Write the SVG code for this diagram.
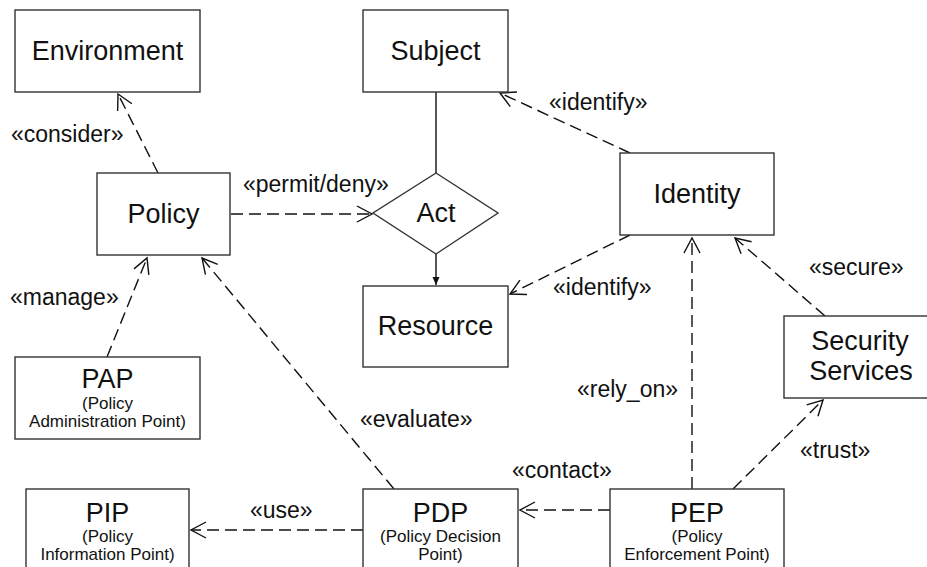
<svg xmlns="http://www.w3.org/2000/svg" width="927" height="567" viewBox="0 0 927 567">
  <defs>
    <marker id="open" markerUnits="userSpaceOnUse" markerWidth="20" markerHeight="20" refX="0" refY="0" viewBox="-16 -10 20 20" orient="auto" overflow="visible">
      <path d="M -15 -8 L 0 0 L -15 8" fill="none" stroke="#111" stroke-width="1.4"/>
    </marker>
    <marker id="solid" markerUnits="userSpaceOnUse" markerWidth="10" markerHeight="10" refX="0" refY="0" viewBox="-8 -4 10 8" orient="auto" overflow="visible">
      <path d="M -8 -3.5 L 0 0 L -8 3.5 Z" fill="#111"/>
    </marker>
  </defs>
  <style>
    .box { fill: #fff; stroke: #333; stroke-width: 1.4; }
    .title { font-family: "Liberation Sans", Arial, sans-serif; font-size: 27px; fill: #111; text-anchor: middle; }
    .sub { font-family: "Liberation Sans", Arial, sans-serif; font-size: 17px; fill: #111; text-anchor: middle; }
    .lbl { font-family: "Liberation Sans", Arial, sans-serif; font-size: 23px; fill: #111; }
    .dep { fill: none; stroke: #111; stroke-width: 1.4; stroke-dasharray: 12 6; marker-end: url(#open); }
    .assoc { fill: none; stroke: #111; stroke-width: 1.4; }
  </style>
  <rect width="927" height="567" fill="#fff"/>

  <g id="connectors">
    <line class="assoc" x1="436" y1="92" x2="436" y2="173"/>
    <line class="assoc" x1="436" y1="254" x2="436" y2="285" marker-end="url(#solid)"/>
    <line class="dep" x1="231" y1="214" x2="372" y2="214"/>
    <line class="dep" x1="158" y1="173" x2="118" y2="94"/>
    <line class="dep" x1="107" y1="357" x2="147" y2="258"/>
    <line class="dep" x1="394" y1="489" x2="202" y2="258"/>
    <line class="dep" x1="363" y1="530" x2="191" y2="530"/>
    <line class="dep" x1="610" y1="510" x2="520" y2="510"/>
    <line class="dep" x1="692" y1="489" x2="692" y2="238"/>
    <line class="dep" x1="733" y1="489" x2="823" y2="400"/>
    <line class="dep" x1="825" y1="316" x2="735" y2="238"/>
    <line class="dep" x1="630" y1="153" x2="500" y2="93"/>
    <line class="dep" x1="630" y1="235" x2="510" y2="294"/>
  </g>

  <g id="labels">
    <text class="lbl" x="11" y="142">«consider»</text>
    <text class="lbl" x="243" y="192">«permit/deny»</text>
    <text class="lbl" x="549" y="110">«identify»</text>
    <text class="lbl" x="553" y="295">«identify»</text>
    <text class="lbl" x="809" y="275">«secure»</text>
    <text class="lbl" x="10" y="305">«manage»</text>
    <text class="lbl" x="577" y="397">«rely_on»</text>
    <text class="lbl" x="360" y="427">«evaluate»</text>
    <text class="lbl" x="512" y="478">«contact»</text>
    <text class="lbl" x="800" y="458">«trust»</text>
    <text class="lbl" x="250" y="518">«use»</text>
  </g>

  <g id="environment">
    <rect class="box" x="15" y="10" width="185" height="82"/>
    <text class="title" x="107.5" y="60">Environment</text>
  </g>
  <g id="subject">
    <rect class="box" x="363" y="10" width="145" height="82"/>
    <text class="title" x="435.5" y="60">Subject</text>
  </g>
  <g id="policy">
    <rect class="box" x="97" y="173" width="133" height="82"/>
    <text class="title" x="163.5" y="223">Policy</text>
  </g>
  <g id="act">
    <polygon class="box" points="436,173 498,213 436,254 373,213"/>
    <text class="title" x="436" y="222">Act</text>
  </g>
  <g id="identity">
    <rect class="box" x="620" y="153" width="154" height="82"/>
    <text class="title" x="697" y="203">Identity</text>
  </g>
  <g id="resource">
    <rect class="box" x="363" y="286" width="145" height="81"/>
    <text class="title" x="435.5" y="335">Resource</text>
  </g>
  <g id="security-services">
    <rect class="box" x="784" y="316" width="160" height="82"/>
    <text class="title" x="860" y="350">Security</text>
    <text class="title" x="861" y="380">Services</text>
  </g>
  <g id="pap">
    <rect class="box" x="15" y="357" width="185" height="82"/>
    <text class="title" x="107.5" y="388">PAP</text>
    <text class="sub" x="107.5" y="409">(Policy</text>
    <text class="sub" x="107.5" y="427">Administration Point)</text>
  </g>
  <g id="pip">
    <rect class="box" x="26" y="489" width="163" height="90"/>
    <text class="title" x="107.5" y="522">PIP</text>
    <text class="sub" x="107.5" y="542">(Policy</text>
    <text class="sub" x="107.5" y="560">Information Point)</text>
  </g>
  <g id="pdp">
    <rect class="box" x="363" y="489" width="155" height="90"/>
    <text class="title" x="440.5" y="522">PDP</text>
    <text class="sub" x="440.5" y="542">(Policy Decision</text>
    <text class="sub" x="440.5" y="560">Point)</text>
  </g>
  <g id="pep">
    <rect class="box" x="610" y="489" width="174" height="90"/>
    <text class="title" x="697" y="522">PEP</text>
    <text class="sub" x="697" y="542">(Policy</text>
    <text class="sub" x="697" y="560">Enforcement Point)</text>
  </g>
</svg>
